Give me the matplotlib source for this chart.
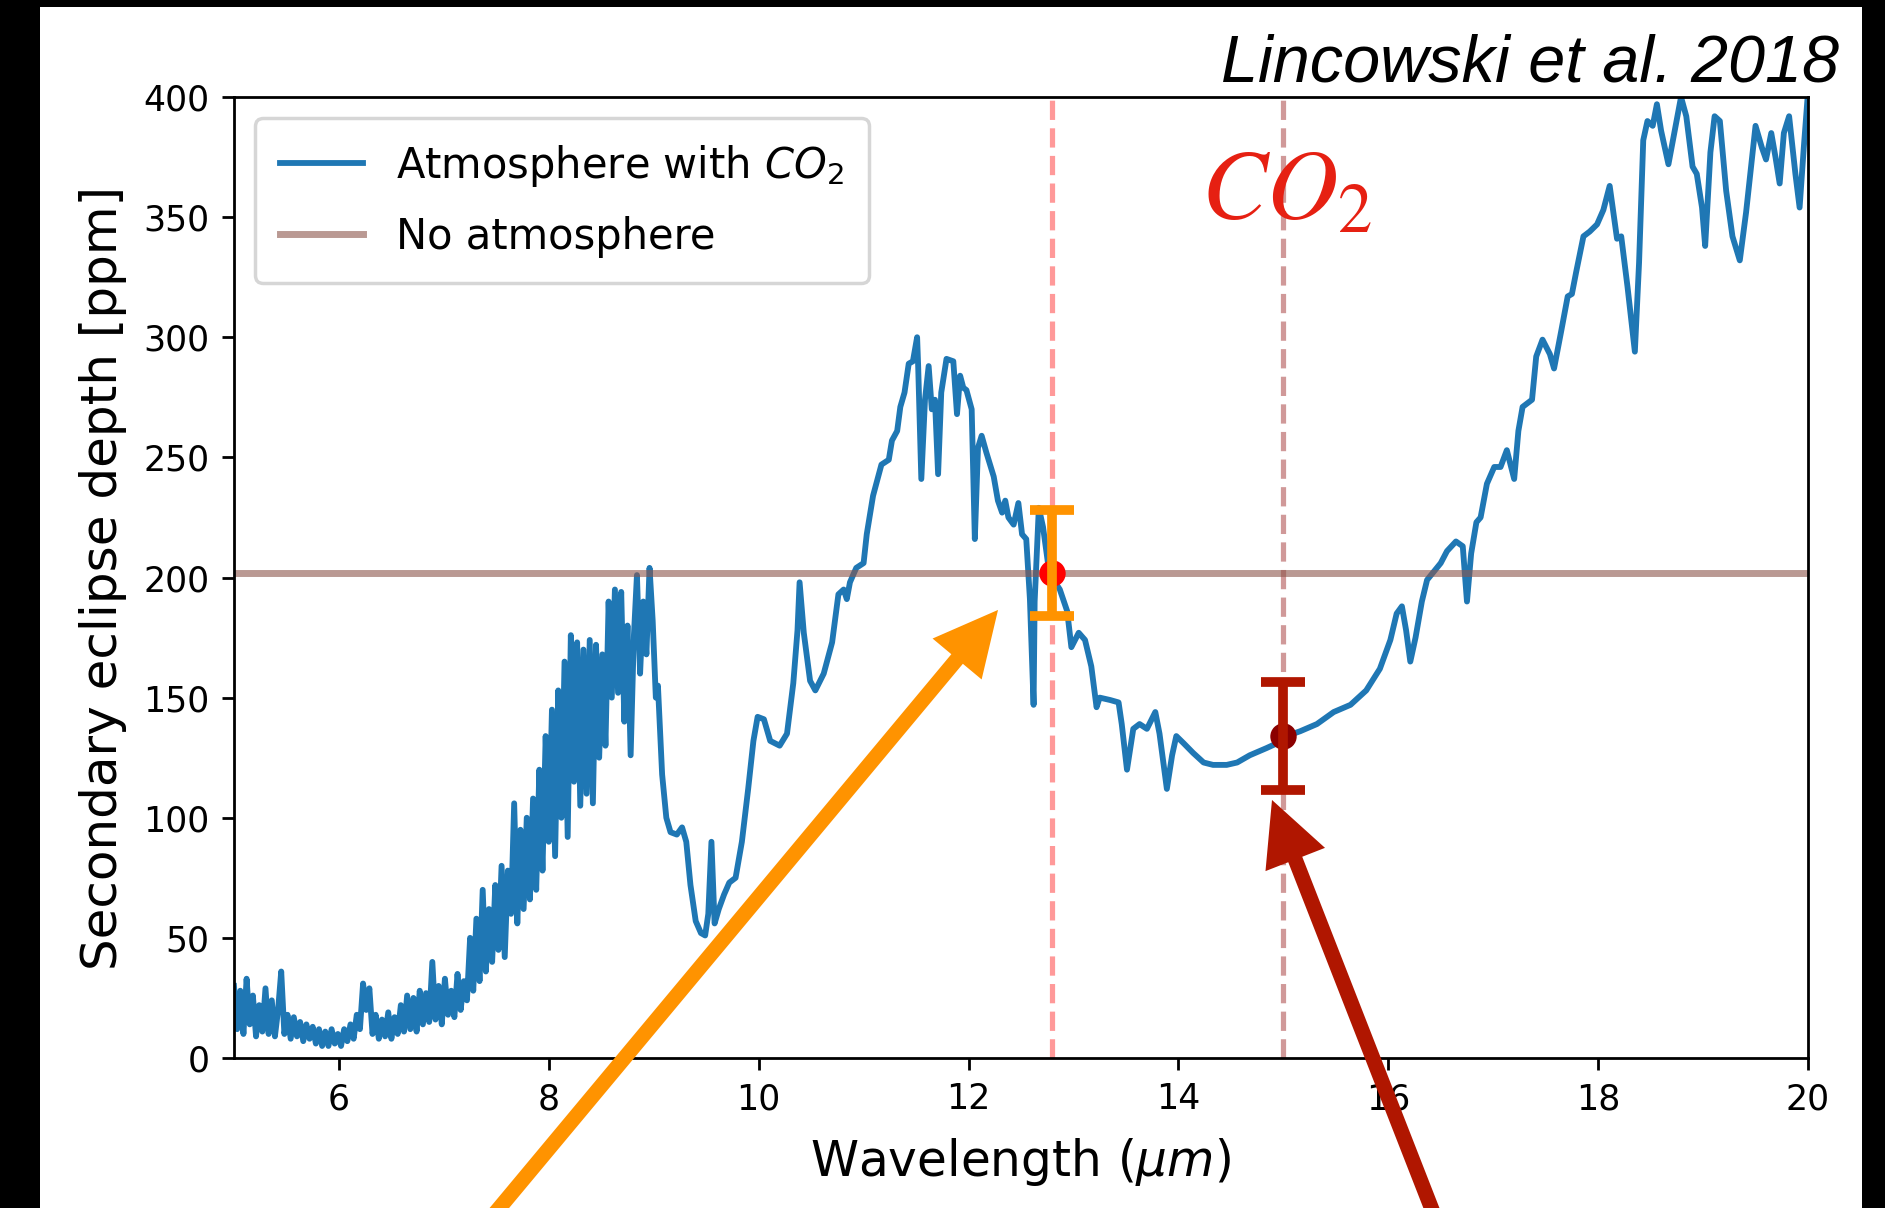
import matplotlib
matplotlib.use("Agg")
import matplotlib.pyplot as plt
from matplotlib.patches import Rectangle

W, H, DPI = 1885, 1208, 100

# Secondary eclipse spectrum of the planet with a CO2 atmosphere (um, ppm)
wavelength = [
    5.00, 5.03, 5.06, 5.09, 5.12, 5.15, 5.18, 5.21, 5.24, 5.27, 5.30, 5.33, 5.36, 5.39,
    5.42, 5.45, 5.48, 5.51, 5.54, 5.57, 5.60, 5.63, 5.66, 5.69, 5.72, 5.75, 5.78, 5.81,
    5.84, 5.87, 5.90, 5.93, 5.96, 5.99, 6.02, 6.05, 6.08, 6.11, 6.14, 6.17, 6.20, 6.23,
    6.26, 6.29, 6.32, 6.35, 6.38, 6.41, 6.44, 6.47, 6.50, 6.53, 6.56, 6.59, 6.62, 6.65,
    6.68, 6.71, 6.74, 6.77, 6.80, 6.83, 6.86, 6.89, 6.92, 6.95, 6.98, 7.01, 7.04, 7.07,
    7.10, 7.13, 7.16, 7.19, 7.22, 7.25, 7.28, 7.31, 7.34, 7.37, 7.40, 7.43, 7.46, 7.49,
    7.52, 7.55, 7.58, 7.61, 7.64, 7.67, 7.70, 7.73, 7.76, 7.79, 7.82, 7.85, 7.88, 7.91,
    7.94, 7.97, 8.00, 8.03, 8.06, 8.09, 8.12, 8.15, 8.18, 8.21, 8.24, 8.27, 8.30, 8.33,
    8.36, 8.39, 8.42, 8.45, 8.48, 8.51, 8.54, 8.57, 8.60, 8.63, 8.66, 8.69, 8.72, 8.75,
    8.78, 8.81, 8.84, 8.87, 8.90, 8.93, 8.96, 8.99,
    9.02, 9.04, 9.08, 9.12, 9.16, 9.22, 9.27, 9.31, 9.35, 9.40, 9.45, 9.49, 9.52, 9.55,
    9.58, 9.62, 9.67, 9.72, 9.78, 9.84, 9.90, 9.95, 9.99, 10.05, 10.11, 10.20, 10.27,
    10.33, 10.37, 10.39, 10.43, 10.49, 10.54, 10.62, 10.70, 10.76, 10.81, 10.84, 10.87,
    10.93, 11.00, 11.03, 11.09, 11.17, 11.24, 11.27, 11.32, 11.35, 11.39, 11.43, 11.47,
    11.51, 11.52, 11.55, 11.585, 11.62, 11.65, 11.68, 11.71, 11.74, 11.79, 11.855, 11.89,
    11.92, 11.95, 11.98, 12.03, 12.06, 12.09, 12.125, 12.17, 12.24, 12.28, 12.32, 12.35,
    12.38, 12.43, 12.475, 12.51, 12.55, 12.585, 12.62, 12.63, 12.67, 12.71, 12.76, 12.81,
    12.87, 12.94, 12.98, 13.05, 13.11, 13.17, 13.22, 13.25, 13.35, 13.43, 13.46, 13.51,
    13.57, 13.63, 13.70, 13.78, 13.82, 13.89, 13.94, 13.98, 14.05, 14.14, 14.24, 14.33,
    14.46, 14.56, 14.68, 14.84, 14.94, 15.03, 15.16, 15.32, 15.48, 15.64, 15.79, 15.92,
    16.02, 16.08, 16.13, 16.17, 16.21, 16.26, 16.32, 16.37, 16.50, 16.56, 16.645, 16.71,
    16.75, 16.79, 16.84, 16.88, 16.94, 17.01, 17.07, 17.13, 17.20, 17.24, 17.28, 17.37,
    17.41, 17.47, 17.54, 17.58, 17.65, 17.71, 17.75, 17.79, 17.86, 17.92, 17.99, 18.05,
    18.11, 18.18, 18.22, 18.28, 18.35, 18.39, 18.43, 18.47, 18.52, 18.56, 18.60, 18.67,
    18.73, 18.79, 18.84, 18.90, 18.94, 18.99, 19.02, 19.07, 19.11, 19.16, 19.22, 19.28,
    19.35, 19.41, 19.50, 19.56, 19.60, 19.65, 19.69, 19.73, 19.77, 19.82, 19.88, 19.92,
    19.96, 20.00,
]
depth = [
    30, 12, 28, 10, 33, 14, 26, 9, 22, 11, 29, 10, 24, 9,
    20, 36, 10, 18, 8, 17, 9, 15, 7, 14, 8, 13, 6, 12,
    5, 11, 5, 12, 6, 10, 5, 12, 7, 14, 8, 18, 12, 31,
    20, 29, 10, 18, 8, 16, 9, 19, 8, 17, 10, 22, 11, 26,
    12, 25, 11, 28, 14, 27, 15, 40, 16, 30, 14, 33, 18, 28,
    17, 35, 20, 32, 24, 50, 28, 58, 32, 70, 36, 62, 40, 72,
    45, 80, 42, 78, 60, 106, 56, 95, 62, 100, 66, 108, 70, 120,
    78, 134, 90, 145, 84, 153, 100, 165, 92, 176, 115, 173, 105, 170,
    110, 174, 106, 172, 125, 168, 130, 190, 150, 195, 152, 194, 140, 180,
    126, 175, 201, 160, 190, 168, 204, 182,
    150, 155, 118, 100, 94, 93, 96, 90, 72, 57, 52, 51, 60, 90,
    56, 62, 68, 73, 75, 90, 112, 132, 142, 141, 132, 130, 135,
    156, 178, 198, 177, 157, 153, 160, 173, 193, 195, 191, 198,
    204, 206, 218, 234, 247, 249, 257, 261, 271, 277, 289, 290,
    300, 288, 241, 274, 288, 270, 274, 243, 277, 291, 290, 268,
    284, 279, 278, 270, 216, 254, 259, 252, 242, 232, 227, 232,
    225, 222, 231, 218, 216, 191, 147, 190, 229, 221, 205, 199,
    195, 186, 171, 177, 174, 163, 146, 150, 149, 148, 139, 120,
    137, 139, 137, 144, 135, 112, 126, 134, 131, 127, 123, 122,
    122, 123, 126, 129, 131, 134, 136, 139, 144, 147, 153, 162,
    174, 185, 188, 178, 165, 175, 190, 199, 206, 211, 215, 213,
    190, 210, 223, 225, 239, 246, 246, 253, 241, 261, 271, 274,
    292, 299, 293, 287, 303, 317, 318, 327, 342, 344, 347, 353,
    363, 341, 342, 321, 294, 331, 382, 390, 388, 397, 386, 372,
    386, 400, 392, 371, 368, 354, 338, 377, 392, 390, 361, 342,
    332, 352, 388, 379, 374, 385, 375, 364, 385, 392, 368, 354,
    379, 402,
]

# Bare-rock comparison level (ppm)
no_atmosphere_depth = 202

# Photometric bands (um) and simulated measurements (ppm)
band_centers = [12.8, 15.0]
band_points = [202, 134]
band_bar_centers = [206, 134]
band_bar_errors = [22, 22.5]

xticks = [6, 8, 10, 12, 14, 16, 18, 20]
yticks = [0, 50, 100, 150, 200, 250, 300, 350, 400]

BLUE = "#1f77b4"
ORANGE = "#ff9300"
DARK_RED = "#b01600"
LABEL_RED = "#e62012"

fig = plt.figure(figsize=(W / DPI, H / DPI), dpi=DPI)
fig.patch.set_facecolor("white")

ax = fig.add_axes([234 / W, 1 - 1058 / H, (1808 - 234) / W, (1058 - 97) / H])

ax.plot(wavelength, depth, color=BLUE, lw=4.2, label="Atmosphere with $CO_2$", zorder=2)
ax.axhline(no_atmosphere_depth, color="tab:brown", alpha=0.6, lw=5,
           label="No atmosphere", zorder=2)
ax.axvline(band_centers[0], color="red", alpha=0.4, ls="--", lw=3.75, zorder=1)
ax.axvline(band_centers[1], color="darkred", alpha=0.4, ls="--", lw=3.75, zorder=1)

# Measurement points with their error bars on top
ax.plot([band_centers[0]], [band_points[0]], "o", color="red", ms=19, mew=0, zorder=3)
ax.plot([band_centers[1]], [band_points[1]], "o", color="darkred", ms=19, mew=0, zorder=3)
ax.errorbar([band_centers[0]], [band_bar_centers[0]], yerr=[band_bar_errors[0]], fmt="none",
            ecolor=ORANGE, elinewidth=7, capsize=15.5, capthick=7, zorder=4)
ax.errorbar([band_centers[1]], [band_bar_centers[1]], yerr=[band_bar_errors[1]], fmt="none",
            ecolor=DARK_RED, elinewidth=7, capsize=15.5, capthick=7, zorder=4)

ax.set_xlim(5, 20)
ax.set_ylim(0, 400)
ax.set_xticks(xticks)
ax.set_yticks(yticks)
ax.tick_params(labelsize=25, length=8.75, width=2, pad=8.75)
for s in ax.spines.values():
    s.set_linewidth(2)

ax.set_xlabel("Wavelength ($\\mu m$)", fontsize=35, labelpad=14)
ax.set_ylabel("Secondary eclipse depth [ppm]", fontsize=36, labelpad=12)

leg = ax.legend(loc="upper left", fontsize=30, borderpad=0.6, labelspacing=0.65)
leg.get_frame().set_linewidth(2.5)

# Band label in a Times-like italic math face
ax.text(14.22, 348.8, "$CO_2$", color=LABEL_RED, fontsize=71, math_fontfamily="stix",
        ha="left", va="baseline", zorder=5)

fig.text(1839 / W, 1 - 82 / H, "Lincowski et al. 2018", fontsize=48,
         family="Liberation Sans", style="italic", ha="right", va="baseline")

# Pointer arrows coming up from below the plot
arrow_style = "simple,head_length=46,head_width=46,tail_width=10.8"
ax.annotate("", xy=(12.281, 186.5), xycoords="data", xytext=(481, -22),
            textcoords="figure pixels", annotation_clip=False,
            arrowprops=dict(arrowstyle=arrow_style, color=ORANGE, lw=0,
                            shrinkA=0, shrinkB=0, mutation_scale=1))
ax.annotate("", xy=(14.892, 107.4), xycoords="data", xytext=(1440, -22),
            textcoords="figure pixels", annotation_clip=False,
            arrowprops=dict(arrowstyle=arrow_style, color=DARK_RED, lw=0,
                            shrinkA=0, shrinkB=0, mutation_scale=1))

# Dark frame around the slide
for x0, y0, w, h in [(0, 0, 40, H), (1862, 0, W - 1862, H), (0, H - 7, W, 7)]:
    fig.patches.append(Rectangle((x0 / W, y0 / H), w / W, h / H, transform=fig.transFigure,
                                 facecolor="black", edgecolor="none", zorder=10))

fig.savefig("out.png", dpi=DPI)
